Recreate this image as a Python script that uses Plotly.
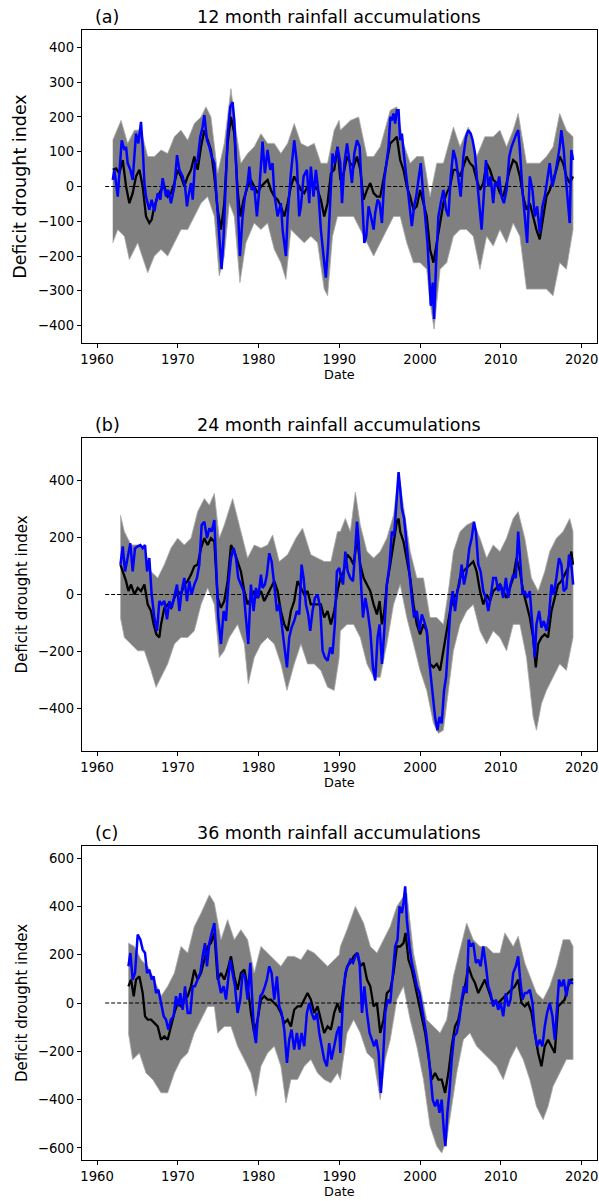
import plotly.graph_objects as go

# ---------------------------------------------------------------------------
# Deficit drought index for three rainfall accumulation windows.
# Each panel: ensemble spread (grey envelope), ensemble mean (black),
# observed series (blue) and a dashed zero reference line.
# ---------------------------------------------------------------------------

ZERO_SPAN = [1961.0, 2018.95]
X_TICKS = [1960, 1970, 1980, 1990, 2000, 2010, 2020]

# ----------------------------- (a) 12 month --------------------------------
A_TITLE = "12 month rainfall accumulations"
A_LABEL = "(a)"
A_YTICKS = [-400, -300, -200, -100, 0, 100, 200, 300, 400]
A_YRANGE = [-450, 450]

A_BLUE_T = [1961.94, 1962.14, 1962.56, 1963.05, 1963.38, 1963.59, 1963.79, 1964.12, 1964.41, 1964.82,
            1965.11, 1965.44, 1965.65, 1965.86, 1966.06, 1966.47, 1966.76, 1967.09, 1967.51, 1967.84,
            1968.12, 1968.54, 1968.82, 1969.15, 1969.57, 1969.90, 1970.19, 1970.60, 1970.89, 1971.13,
            1971.30, 1971.63, 1971.84, 1972.12, 1972.45, 1972.78, 1973.07, 1973.28, 1973.61, 1973.90,
            1974.19, 1974.52, 1974.85, 1975.13, 1975.42, 1975.67, 1975.96, 1976.16, 1976.49, 1976.78,
            1976.99, 1977.20, 1977.40, 1977.69, 1978.02, 1978.31, 1978.64, 1978.85, 1979.13, 1979.46,
            1979.79, 1980.08, 1980.49, 1980.78, 1981.11, 1981.44, 1981.73, 1981.94, 1982.35, 1982.76,
            1982.97, 1983.38, 1983.59, 1984.00, 1984.41, 1984.74, 1985.03, 1985.24, 1985.57, 1985.98,
            1986.27, 1986.47, 1986.80, 1987.09, 1987.38, 1987.71, 1988.04, 1988.33, 1988.62, 1988.87,
            1989.15, 1989.44, 1989.77, 1990.12, 1990.33, 1990.62, 1990.95, 1991.28, 1991.56, 1991.85,
            1992.18, 1992.51, 1992.80, 1993.09, 1993.33, 1993.62, 1993.91, 1994.24, 1994.44, 1994.73,
            1994.98, 1995.27, 1995.56, 1995.80, 1996.09, 1996.30, 1996.50, 1996.71, 1996.91, 1997.12,
            1997.33, 1997.53, 1997.74, 1998.02, 1998.35, 1998.68, 1998.97, 1999.26, 1999.51, 1999.79,
            2000.08, 2000.33, 2000.62, 2000.91, 2001.15, 2001.32, 2001.56, 2001.73, 2001.98, 2002.26,
            2002.55, 2002.88, 2003.21, 2003.50, 2003.79, 2004.12, 2004.44, 2004.73, 2005.02, 2005.35,
            2005.68, 2005.97, 2006.26, 2006.50, 2006.79, 2007.08, 2007.33, 2007.61, 2007.90, 2008.15,
            2008.44, 2008.72, 2009.05, 2009.26, 2009.55, 2009.79, 2010.08, 2010.37, 2010.70, 2011.03,
            2011.32, 2011.60, 2011.93, 2012.14, 2012.35, 2012.67, 2012.96, 2013.25, 2013.58, 2013.91,
            2014.20, 2014.49, 2014.81, 2015.14, 2015.43, 2015.72, 2016.05, 2016.38, 2016.67, 2016.95,
            2017.28, 2017.49, 2017.78, 2018.02, 2018.31, 2018.52, 2018.72, 2018.93]
A_BLUE_V = [19, 48, -29, 133, 105, 114, 67, 48, 19, 152,
            124, 186, 114, 10, -29, -67, -38, -71, -19, -38,
            24, -29, -10, -48, 0, 90, 48, 29, 0, -57,
            -29, 10, -38, 67, 76, 143, 171, 205, 133, 114,
            86, 67, -48, -143, -238, -143, 19, 143, 229, 243,
            190, 76, -48, -200, -86, -29, 10, 57, -10, 0,
            -86, -10, 129, 38, 105, 48, 67, -19, -86, -48,
            -124, -200, -86, 38, 133, 67, -86, -57, 29, 48,
            -48, 57, -29, 48, -10, -124, -200, -262, -162, -38,
            95, 67, 114, 67, -48, 67, 124, 67, 10, 95,
            133, 114, -29, -162, -143, -57, -86, -124, -76, -38,
            -48, -105, 19, 67, 114, 200, 190, 210, 181, 219,
            219, 133, 152, 86, 10, -48, -114, -57, -29, 19,
            67, -10, -86, -162, -267, -343, -276, -381, -219, -86,
            -48, -10, -67, -86, 29, 105, 76, 29, -29, 86,
            143, 162, 152, 133, 95, 10, -57, -124, -19, 76,
            0, 29, -48, 10, 0, 29, -29, -48, -10, 86,
            114, 133, 152, 162, 105, -10, -86, -162, 29, -10,
            -86, -57, -133, -57, -29, 19, 67, 0, 29, 67,
            114, 162, 105, 29, -48, -105, 105, 76]

A_MEAN_T = [1961.94, 1962.35, 1962.76, 1963.18, 1963.59, 1964.00, 1964.41, 1964.82, 1965.24, 1965.65,
            1966.06, 1966.47, 1966.76, 1967.09, 1967.51, 1967.92, 1968.33, 1968.74, 1969.15, 1969.57,
            1969.98, 1970.39, 1970.80, 1971.22, 1971.63, 1972.04, 1972.45, 1972.87, 1973.28, 1973.69,
            1974.10, 1974.52, 1974.93, 1975.34, 1975.75, 1976.16, 1976.58, 1976.99, 1977.40, 1977.73,
            1978.14, 1978.64, 1979.05, 1979.46, 1979.88, 1980.29, 1980.70, 1981.11, 1981.53, 1981.94,
            1982.35, 1982.76, 1983.18, 1983.59, 1984.00, 1984.41, 1984.82, 1985.24, 1985.65, 1986.06,
            1986.47, 1986.89, 1987.30, 1987.71, 1988.12, 1988.54, 1988.95, 1989.36, 1989.77, 1990.12,
            1990.53, 1990.95, 1991.36, 1991.77, 1992.18, 1992.59, 1993.00, 1993.42, 1993.83, 1994.24,
            1994.65, 1995.06, 1995.47, 1995.88, 1996.30, 1996.71, 1997.12, 1997.53, 1997.94, 1998.35,
            1998.77, 1999.18, 1999.59, 2000.00, 2000.41, 2000.82, 2001.23, 2001.65, 2002.06, 2002.47,
            2002.88, 2003.29, 2003.70, 2004.12, 2004.53, 2004.94, 2005.35, 2005.76, 2006.17, 2006.58,
            2007.00, 2007.41, 2007.82, 2008.23, 2008.64, 2009.05, 2009.47, 2009.88, 2010.29, 2010.70,
            2011.11, 2011.52, 2011.93, 2012.35, 2012.76, 2013.17, 2013.58, 2013.99, 2014.40, 2014.81,
            2015.23, 2015.64, 2016.05, 2016.46, 2016.87, 2017.28, 2017.70, 2018.11, 2018.52, 2018.93]
A_MEAN_V = [48, 52, 38, 76, 0, -48, -19, 29, 48, 0,
            -86, -105, -95, -57, -29, -10, 0, -29, -19, 10,
            48, 29, 0, 29, 48, 86, 48, 114, 162, 133,
            105, 29, -67, -124, -48, 124, 200, 152, -10, -86,
            -38, 0, 19, 0, -19, 0, 10, 19, -10, -29,
            -38, -57, -86, -48, 0, 29, 10, -10, -19, 0,
            10, 0, -10, -38, -86, -48, 38, 48, 114, 19,
            38, 86, 67, 57, 86, 48, -38, -10, 10, -19,
            -29, -29, 19, 76, 124, 133, 143, 76, 48, 0,
            -29, -67, -57, -10, -48, -86, -181, -219, -162, -105,
            -48, -19, 0, 48, 48, 29, 57, 86, 67, 57,
            19, -10, 10, 67, 48, 19, 10, -19, -29, 10,
            48, 76, 67, 29, -29, -67, -48, -86, -124, -152,
            -86, -29, -10, 19, 48, 86, 67, 29, 10, 29]

A_UP_T = [1961.94, 1962.97, 1963.79, 1964.62, 1965.44, 1966.27, 1967.09, 1967.92, 1968.74, 1969.57,
          1970.39, 1971.22, 1972.04, 1972.87, 1973.48, 1974.10, 1974.93, 1975.75, 1976.58, 1977.20,
          1977.81, 1978.64, 1979.46, 1980.29, 1981.11, 1981.94, 1982.76, 1983.59, 1984.41, 1985.24,
          1986.06, 1986.89, 1987.71, 1988.54, 1989.36, 1989.98, 1990.12, 1991.36, 1992.39, 1993.42,
          1994.24, 1995.06, 1996.30, 1997.12, 1997.94, 1998.77, 1999.59, 2000.41, 2001.23, 2002.06,
          2002.88, 2004.12, 2004.94, 2005.97, 2007.00, 2008.02, 2009.05, 2009.88, 2010.70, 2011.52,
          2012.14, 2013.17, 2013.99, 2014.81, 2015.64, 2016.46, 2017.28, 2018.11, 2018.93]
A_UP_V = [133, 190, 124, 162, 162, 86, 86, 105, 95, 143,
          162, 133, 181, 200, 229, 200, 38, 124, 281, 162,
          67, 95, 114, 152, 124, 124, 95, 124, 181, 124,
          114, 124, 67, 67, 162, 190, 162, 190, 200, 86,
          86, 114, 219, 229, 124, 67, 86, 86, -29, 67,
          67, 171, 114, 171, 86, 143, 143, 162, 114, 162,
          210, 67, 67, 67, 86, 114, 210, 162, 143]

A_LO_T = [1961.94, 1962.56, 1963.38, 1964.00, 1965.03, 1966.27, 1967.09, 1967.92, 1968.74, 1969.57,
          1970.39, 1971.22, 1972.04, 1972.87, 1973.69, 1974.52, 1975.13, 1975.75, 1976.37, 1976.99,
          1977.69, 1978.43, 1979.46, 1980.29, 1981.11, 1981.94, 1982.76, 1983.38, 1984.00, 1984.82,
          1985.65, 1986.47, 1987.30, 1988.12, 1988.54, 1989.15, 1989.77, 1990.12, 1990.95, 1991.77,
          1992.59, 1993.42, 1994.24, 1995.06, 1995.88, 1996.71, 1997.53, 1998.35, 1999.18, 2000.00,
          2000.82, 2001.23, 2001.73, 2002.47, 2003.29, 2004.12, 2004.94, 2005.76, 2006.58, 2007.41,
          2008.23, 2009.05, 2009.88, 2010.70, 2011.52, 2012.35, 2013.17, 2013.99, 2014.81, 2015.64,
          2016.46, 2017.28, 2018.11, 2018.93]
A_LO_V = [-162, -124, -143, -210, -162, -248, -200, -181, -200, -162,
          -124, -124, -86, -48, -29, -86, -257, -200, -48, -86,
          -276, -162, -105, -124, -105, -181, -219, -267, -124, -143,
          -162, -143, -162, -295, -314, -143, -86, -86, -86, -86,
          -124, -162, -200, -162, -124, -86, -86, -162, -219, -219,
          -238, -333, -410, -238, -219, -143, -124, -124, -143, -238,
          -143, -171, -124, -162, -105, -143, -295, -295, -295, -295,
          -314, -219, -238, -124]

# ----------------------------- (b) 24 month --------------------------------
B_TITLE = "24 month rainfall accumulations"
B_LABEL = "(b)"
B_YTICKS = [-400, -200, 0, 200, 400]
B_YRANGE = [-550, 550]

B_BLUE_T = [1962.89, 1963.18, 1963.46, 1963.79, 1964.12, 1964.41, 1964.70, 1965.03, 1965.36, 1965.65,
            1965.94, 1966.19, 1966.47, 1966.76, 1967.09, 1967.42, 1967.71, 1968.00, 1968.33, 1968.66,
            1968.95, 1969.24, 1969.57, 1969.90, 1970.19, 1970.47, 1970.80, 1971.13, 1971.42, 1971.71,
            1972.04, 1972.37, 1972.66, 1972.95, 1973.28, 1973.61, 1973.90, 1974.19, 1974.52, 1974.72,
            1975.01, 1975.34, 1975.67, 1975.96, 1976.25, 1976.58, 1976.91, 1977.20, 1977.48, 1977.81,
            1978.14, 1978.43, 1978.72, 1979.05, 1979.38, 1979.67, 1979.96, 1980.29, 1980.49, 1980.78,
            1981.03, 1981.32, 1981.61, 1981.94, 1982.27, 1982.56, 1982.85, 1983.18, 1983.51, 1983.79,
            1984.08, 1984.41, 1984.74, 1985.03, 1985.32, 1985.57, 1985.86, 1986.14, 1986.39, 1986.68,
            1986.97, 1987.30, 1987.63, 1987.92, 1988.21, 1988.54, 1988.87, 1989.15, 1989.44, 1989.69,
            1989.98, 1990.12, 1990.45, 1990.74, 1991.03, 1991.36, 1991.69, 1991.98, 1992.18, 1992.39,
            1992.67, 1992.92, 1993.21, 1993.50, 1993.83, 1994.16, 1994.44, 1994.73, 1994.98, 1995.27,
            1995.56, 1995.88, 1996.21, 1996.50, 1996.79, 1997.04, 1997.20, 1997.33, 1997.53, 1997.74,
            1998.02, 1998.35, 1998.68, 1998.97, 1999.26, 1999.59, 1999.92, 2000.21, 2000.49, 2000.82,
            2001.03, 2001.32, 2001.56, 2001.85, 2002.14, 2002.39, 2002.67, 2002.96, 2003.21, 2003.50,
            2003.79, 2004.03, 2004.32, 2004.61, 2004.86, 2005.14, 2005.43, 2005.76, 2006.09, 2006.38,
            2006.67, 2006.91, 2007.20, 2007.49, 2007.82, 2008.15, 2008.44, 2008.72, 2009.05, 2009.38,
            2009.67, 2009.96, 2010.29, 2010.62, 2010.91, 2011.19, 2011.52, 2011.85, 2012.14, 2012.43,
            2012.67, 2012.96, 2013.25, 2013.58, 2013.91, 2014.20, 2014.40, 2014.73, 2015.02, 2015.31,
            2015.64, 2015.97, 2016.26, 2016.54, 2016.87, 2017.20, 2017.49, 2017.78, 2018.11, 2018.44,
            2018.72, 2018.95]
B_BLUE_V = [105, 169, 81, 128, 180, 81, 163, 169, 174, 163,
            174, 81, 128, 0, -81, -128, -23, -35, -23, -87,
            -23, -47, 0, 35, -58, 12, 58, -23, 47, 0,
            35, 58, 105, 244, 256, 198, 233, 221, 262, 140,
            -81, -174, -58, -93, 35, 128, 163, 128, 58, 35,
            12, -81, -174, 35, -58, 23, -12, 70, 23, 35,
            70, 145, 116, 35, -58, -35, -105, -163, -256, -151,
            -116, -93, -58, -70, 105, 58, -35, -70, -128, -58,
            -12, 0, -47, -198, -221, -233, -186, -209, -105, 81,
            93, 70, 35, 151, 81, 58, 47, 163, 256, 186,
            58, -81, -12, -58, -128, -256, -302, -151, -105, -244,
            -128, 35, 105, 221, 209, 314, 360, 430, 372, 302,
            267, 163, 81, -12, -81, -58, -128, -70, -93, -128,
            -209, -291, -372, -430, -477, -430, -453, -337, -291, -151,
            -35, 12, -58, 12, 35, 105, 35, 81, 163, 198,
            256, 221, 105, 81, 12, -12, -58, -12, 58, 58,
            12, 35, -12, 58, -12, 35, 70, 58, 221, 105,
            0, 12, -12, 12, -105, -221, -105, -58, -116, -93,
            -128, -70, 35, 0, 58, 128, 105, 12, 23, 140,
            105, 35]

B_MEAN_T = [1962.89, 1963.18, 1963.59, 1963.88, 1964.21, 1964.62, 1965.03, 1965.44, 1965.86, 1966.27,
            1966.68, 1967.01, 1967.34, 1967.71, 1967.92, 1968.33, 1968.74, 1969.15, 1969.57, 1969.98,
            1970.39, 1970.80, 1971.22, 1971.63, 1972.04, 1972.45, 1972.87, 1973.28, 1973.69, 1974.10,
            1974.52, 1974.93, 1975.34, 1975.75, 1976.16, 1976.58, 1976.99, 1977.40, 1977.81, 1978.23,
            1978.64, 1979.05, 1979.46, 1979.88, 1980.29, 1980.70, 1981.11, 1981.53, 1981.94, 1982.35,
            1982.76, 1983.18, 1983.59, 1984.00, 1984.41, 1984.82, 1985.24, 1985.65, 1986.06, 1986.47,
            1986.89, 1987.30, 1987.71, 1988.12, 1988.54, 1988.95, 1989.36, 1989.77, 1990.12, 1990.53,
            1990.95, 1991.36, 1991.77, 1992.18, 1992.59, 1993.00, 1993.42, 1993.83, 1994.24, 1994.65,
            1994.98, 1995.27, 1995.56, 1995.88, 1996.30, 1996.71, 1997.12, 1997.33, 1997.53, 1997.94,
            1998.35, 1998.77, 1999.18, 1999.59, 2000.00, 2000.41, 2000.82, 2001.23, 2001.65, 2002.06,
            2002.47, 2002.88, 2003.29, 2003.70, 2004.12, 2004.53, 2004.94, 2005.35, 2005.76, 2006.17,
            2006.58, 2007.00, 2007.41, 2007.82, 2008.23, 2008.64, 2009.05, 2009.47, 2009.88, 2010.29,
            2010.70, 2011.11, 2011.52, 2011.93, 2012.35, 2012.76, 2013.17, 2013.58, 2013.99, 2014.32,
            2014.61, 2015.02, 2015.43, 2015.84, 2016.26, 2016.67, 2017.08, 2017.49, 2017.90, 2018.31,
            2018.72, 2018.93]
B_MEAN_V = [105, 81, 47, 12, 35, 0, 23, 12, 35, -35,
            -58, -105, -140, -151, -105, -47, -35, -47, -12, 12,
            0, 35, 47, 70, 99, 105, 163, 198, 174, 198,
            186, -12, -47, -23, 47, 174, 151, 116, 81, 12,
            -35, -12, 12, -12, 12, -23, 0, 23, 47, 12,
            -58, -105, -128, -58, -23, 47, 23, 0, 12, -35,
            -35, -35, -35, -81, -58, -105, -58, 12, 58, 81,
            140, 128, 105, 198, 105, 58, 35, 12, -35, -70,
            -23, -105, -58, 35, 105, 174, 256, 267, 221, 186,
            128, 58, -35, -105, -140, -105, -128, -244, -256, -244,
            -267, -198, -128, -58, -12, 0, 58, 81, 93, 105,
            116, 81, 12, -35, 0, -23, 12, 23, 35, 12,
            -12, 23, 58, 128, 81, 12, -35, -81, -151, -256,
            -174, -151, -140, -151, -58, -12, 35, 47, 70, 93,
            151, 105]

B_UP_T = [1962.89, 1963.38, 1964.21, 1965.03, 1965.86, 1966.68, 1967.51, 1968.33, 1969.15, 1969.98,
          1970.80, 1971.63, 1972.45, 1973.28, 1973.90, 1974.52, 1975.13, 1975.75, 1976.78, 1977.61,
          1978.64, 1979.46, 1980.29, 1981.11, 1981.73, 1982.56, 1983.59, 1984.62, 1985.44, 1986.47,
          1987.30, 1988.12, 1988.95, 1989.77, 1990.12, 1990.74, 1991.36, 1991.98, 1992.59, 1993.42,
          1994.24, 1995.06, 1995.88, 1996.71, 1997.33, 1997.94, 1998.77, 1999.59, 2000.41, 2001.23,
          2002.06, 2002.88, 2003.50, 2004.12, 2004.94, 2005.76, 2006.58, 2007.41, 2008.23, 2009.05,
          2009.88, 2010.70, 2011.52, 2012.14, 2012.96, 2013.78, 2014.61, 2015.43, 2016.05, 2016.87,
          2017.70, 2018.52, 2018.93]
B_UP_V = [279, 221, 174, 174, 163, 81, 58, 105, 163, 198,
          174, 198, 291, 337, 314, 355, 198, 244, 337, 244,
          128, 174, 163, 174, 209, 116, 140, 198, 233, 140,
          128, 116, 116, 221, 221, 267, 221, 360, 244, 151,
          128, 151, 198, 279, 430, 314, 151, 58, 58, -81,
          -81, -105, 12, 151, 221, 244, 256, 198, 128, 174,
          151, 198, 267, 291, 198, 58, 12, 81, 151, 198,
          221, 267, 221]

B_LO_T = [1962.89, 1963.38, 1964.21, 1965.03, 1965.86, 1966.68, 1967.30, 1967.92, 1968.74, 1969.57,
          1970.39, 1971.22, 1972.04, 1972.87, 1973.69, 1974.52, 1975.13, 1975.75, 1976.37, 1977.40,
          1978.23, 1978.72, 1979.46, 1980.29, 1981.11, 1981.94, 1982.76, 1983.51, 1984.41, 1985.24,
          1986.06, 1986.89, 1987.71, 1988.54, 1989.36, 1989.98, 1990.12, 1990.95, 1991.77, 1992.59,
          1993.42, 1994.24, 1995.06, 1995.88, 1996.71, 1997.53, 1998.35, 1999.18, 2000.00, 2000.82,
          2001.65, 2002.26, 2002.88, 2003.50, 2004.12, 2004.94, 2005.76, 2006.58, 2007.41, 2008.23,
          2009.05, 2009.88, 2010.70, 2011.52, 2012.35, 2013.17, 2013.99, 2014.40, 2015.02, 2015.64,
          2016.46, 2017.28, 2018.11, 2018.93]
B_LO_V = [-81, -151, -174, -198, -198, -267, -326, -291, -244, -174,
          -151, -151, -128, -35, 23, -35, -221, -198, -151, -105,
          -174, -314, -221, -174, -151, -174, -244, -337, -244, -174,
          -244, -244, -267, -326, -337, -221, -128, -105, -105, -151,
          -244, -291, -291, -174, -35, 35, -81, -174, -267, -337,
          -453, -488, -477, -337, -198, -105, -58, -35, -128, -174,
          -128, -151, -198, -105, -105, -221, -430, -477, -384, -337,
          -291, -244, -267, -151]

# ----------------------------- (c) 36 month --------------------------------
C_TITLE = "36 month rainfall accumulations"
C_LABEL = "(c)"
C_YTICKS = [-600, -400, -200, 0, 200, 400, 600]
C_YRANGE = [-650, 650]

C_BLUE_T = [1963.88, 1964.12, 1964.41, 1964.70, 1965.03, 1965.36, 1965.65, 1965.94, 1966.19, 1966.47,
            1966.76, 1967.01, 1967.30, 1967.59, 1967.92, 1968.25, 1968.54, 1968.82, 1969.15, 1969.48,
            1969.77, 1970.06, 1970.31, 1970.60, 1970.89, 1971.22, 1971.55, 1971.84, 1972.12, 1972.45,
            1972.78, 1973.07, 1973.36, 1973.61, 1973.90, 1974.19, 1974.52, 1974.72, 1975.01, 1975.34,
            1975.67, 1975.96, 1976.25, 1976.49, 1976.78, 1977.07, 1977.40, 1977.73, 1978.02, 1978.31,
            1978.64, 1978.97, 1979.26, 1979.46, 1979.67, 1979.88, 1980.21, 1980.49, 1980.78, 1981.03,
            1981.32, 1981.61, 1981.94, 1982.27, 1982.56, 1982.85, 1983.18, 1983.51, 1983.79, 1984.08,
            1984.41, 1984.74, 1985.03, 1985.32, 1985.65, 1985.98, 1986.27, 1986.56, 1986.89, 1987.22,
            1987.51, 1987.79, 1988.12, 1988.45, 1988.74, 1989.03, 1989.36, 1989.69, 1989.98, 1990.12,
            1990.45, 1990.74, 1991.03, 1991.36, 1991.69, 1991.98, 1992.26, 1992.51, 1992.80, 1993.09,
            1993.42, 1993.74, 1994.03, 1994.32, 1994.57, 1994.86, 1995.14, 1995.39, 1995.68, 1995.97,
            1996.30, 1996.63, 1996.91, 1997.20, 1997.45, 1997.74, 1997.94, 1998.15, 1998.35, 1998.68,
            1998.97, 1999.26, 1999.59, 1999.92, 2000.21, 2000.49, 2000.74, 2001.03, 2001.32, 2001.56,
            2001.85, 2002.14, 2002.39, 2002.67, 2002.96, 2003.13, 2003.37, 2003.62, 2003.91, 2004.20,
            2004.53, 2004.86, 2005.14, 2005.43, 2005.76, 2006.01, 2006.26, 2006.58, 2006.91, 2007.20,
            2007.49, 2007.82, 2008.15, 2008.44, 2008.72, 2009.05, 2009.38, 2009.67, 2009.96, 2010.29,
            2010.62, 2010.91, 2011.19, 2011.52, 2011.85, 2012.14, 2012.35, 2012.67, 2012.96, 2013.25,
            2013.58, 2013.91, 2014.20, 2014.49, 2014.81, 2015.14, 2015.43, 2015.72, 2016.05, 2016.38,
            2016.67, 2016.95, 2017.20, 2017.49, 2017.78, 2018.11, 2018.44, 2018.72, 2018.95]
C_BLUE_V = [152, 207, 97, 124, 283, 262, 221, 207, 124, 138,
            97, 110, 41, 55, 0, -55, -69, -110, -69, -55,
            28, -14, 41, -28, 69, -41, -41, 69, 69, 97,
            124, 193, 248, 152, 248, 290, 331, 234, 97, 41,
            69, 14, 97, 179, 124, 69, -41, 14, 124, 110,
            14, 166, -14, -124, -166, -69, 28, 41, 69, 97,
            152, 124, 14, 110, -14, -41, -110, -248, -152, -110,
            -193, -124, -193, -124, -179, -41, 0, -41, -69, -41,
            -124, -179, -234, -262, -166, -234, -179, -124, -97, -207,
            14, 124, 152, 179, 166, 193, 207, 166, -41, 69,
            -41, -124, -152, -179, -152, -207, -372, -248, -41, 14,
            0, 110, 234, 262, 400, 372, 414, 483, 345, 234,
            166, 124, 69, 41, -14, -69, -124, -207, -317, -400,
            -428, -400, -455, -400, -538, -593, -455, -372, -234, -138,
            -124, -69, 14, 69, 41, 262, 234, 248, 166, 179,
            152, 234, 152, 69, 41, -14, 14, -28, 0, -55,
            41, -14, 14, 124, 152, 193, 110, 14, 41, 41,
            55, 0, -124, -179, -152, -179, -97, -41, 0, -55,
            -152, -28, 97, 69, 97, 28, 97, 83, 83]

C_MEAN_T = [1963.88, 1964.21, 1964.54, 1964.82, 1965.24, 1965.65, 1965.94, 1966.27, 1966.68, 1967.09,
            1967.51, 1967.92, 1968.33, 1968.74, 1969.15, 1969.57, 1969.98, 1970.39, 1970.80, 1971.22,
            1971.63, 1972.04, 1972.45, 1972.87, 1973.28, 1973.69, 1974.10, 1974.52, 1974.93, 1975.34,
            1975.75, 1976.16, 1976.58, 1976.99, 1977.40, 1977.81, 1978.23, 1978.64, 1979.05, 1979.46,
            1979.88, 1980.29, 1980.70, 1981.11, 1981.53, 1981.94, 1982.35, 1982.76, 1983.18, 1983.59,
            1984.00, 1984.41, 1984.82, 1985.24, 1985.65, 1986.06, 1986.47, 1986.89, 1987.30, 1987.71,
            1988.12, 1988.54, 1988.95, 1989.36, 1989.77, 1990.12, 1990.53, 1990.95, 1991.36, 1991.77,
            1992.18, 1992.59, 1993.00, 1993.42, 1993.83, 1994.24, 1994.65, 1995.06, 1995.47, 1995.88,
            1996.30, 1996.71, 1997.12, 1997.53, 1997.94, 1998.19, 1998.56, 1998.97, 1999.38, 1999.79,
            2000.21, 2000.62, 2001.03, 2001.44, 2001.85, 2002.26, 2002.67, 2003.09, 2003.50, 2003.91,
            2004.32, 2004.73, 2005.14, 2005.56, 2005.97, 2006.38, 2006.79, 2007.20, 2007.61, 2008.02,
            2008.44, 2008.85, 2009.26, 2009.67, 2010.08, 2010.49, 2010.91, 2011.32, 2011.73, 2012.14,
            2012.55, 2012.96, 2013.37, 2013.79, 2014.20, 2014.61, 2015.02, 2015.43, 2015.84, 2016.26,
            2016.67, 2017.08, 2017.49, 2017.90, 2018.31, 2018.72, 2018.95]
C_MEAN_V = [69, 97, 28, 97, 110, 41, -55, -69, -69, -83,
            -97, -152, -138, -152, -97, -41, 0, -14, 14, 28,
            69, 138, 97, 124, 179, 234, 248, 290, 97, 124,
            97, 138, 193, 110, 55, 124, 138, 69, -41, -124,
            -69, 14, 28, 14, 14, 0, -14, -41, -83, -69,
            -97, -28, -14, -14, 14, 41, 14, -41, -14, -69,
            -124, -97, -110, -41, 0, -40, 69, 152, 166, 193,
            207, 152, 166, 97, 69, -14, 0, -124, -69, 41,
            55, 124, 234, 234, 248, 290, 179, 138, 69, 0,
            -55, -124, -221, -317, -290, -317, -317, -372, -290, -179,
            -97, -69, 0, 69, 152, 110, 83, 41, 69, 97,
            55, 14, 0, 0, 14, 28, 41, 55, 69, 97,
            0, -14, 0, -41, -124, -207, -262, -179, -152, -179,
            -207, -14, 0, 14, 69, 97, 97]

C_UP_T = [1963.88, 1964.62, 1965.44, 1966.27, 1967.09, 1967.92, 1968.74, 1969.57, 1970.39, 1971.22,
          1972.04, 1972.87, 1973.90, 1974.52, 1975.34, 1976.16, 1976.99, 1977.81, 1978.64, 1979.46,
          1980.29, 1981.11, 1981.94, 1982.76, 1983.59, 1984.41, 1985.24, 1986.06, 1986.89, 1987.71,
          1988.54, 1989.36, 1989.98, 1990.12, 1990.95, 1991.98, 1993.00, 1993.83, 1994.65, 1995.47,
          1996.30, 1997.12, 1997.94, 1998.35, 1999.18, 2000.00, 2000.82, 2001.65, 2002.47, 2003.29,
          2004.12, 2004.94, 2005.76, 2006.58, 2007.41, 2008.23, 2009.05, 2009.88, 2010.49, 2011.52,
          2012.14, 2012.96, 2013.79, 2014.40, 2015.23, 2016.05, 2016.87, 2017.70, 2018.52, 2018.93]
C_UP_V = [248, 234, 179, 152, 97, 28, 69, 124, 234, 207,
          317, 372, 448, 414, 262, 345, 262, 303, 262, 124,
          234, 207, 179, 152, 193, 193, 179, 221, 207, 179,
          152, 179, 200, 234, 303, 400, 331, 234, 207, 262,
          317, 400, 441, 455, 207, 69, -69, -97, -124, -69,
          110, 221, 331, 262, 234, 234, 207, 207, 290, 234,
          276, 166, 97, 41, 14, 69, 152, 262, 262, 234]

C_LO_T = [1963.88, 1964.41, 1965.24, 1966.06, 1966.89, 1967.92, 1968.74, 1969.57, 1970.39, 1971.22,
          1972.04, 1972.87, 1973.69, 1974.52, 1974.93, 1975.75, 1976.58, 1977.40, 1978.23, 1979.05,
          1979.67, 1980.29, 1981.11, 1981.94, 1982.76, 1983.38, 1984.00, 1984.82, 1985.65, 1986.47,
          1987.30, 1988.12, 1988.95, 1989.77, 1990.12, 1990.95, 1991.77, 1992.59, 1993.42, 1994.24,
          1995.06, 1995.68, 1996.30, 1997.12, 1997.94, 1998.77, 1999.59, 2000.41, 2001.23, 2002.06,
          2002.67, 2003.29, 2003.91, 2004.53, 2005.35, 2006.17, 2007.00, 2007.82, 2008.64, 2009.47,
          2010.29, 2011.11, 2011.93, 2012.76, 2013.58, 2014.40, 2015.23, 2015.84, 2016.46, 2017.28,
          2018.11, 2018.93]
C_LO_V = [-124, -234, -207, -290, -317, -372, -372, -290, -234, -207,
          -124, -69, -14, -14, -124, -97, -97, -179, -234, -290,
          -386, -262, -207, -179, -262, -414, -317, -317, -262, -234,
          -290, -317, -331, -290, -317, -124, -69, -124, -207, -234,
          -400, -234, -152, 14, 69, -69, -179, -317, -510, -593,
          -621, -566, -428, -290, -152, -124, -179, -207, -234, -262,
          -317, -234, -179, -234, -317, -428, -483, -428, -345, -290,
          -234, -234]

PANELS = [
    dict(label=A_LABEL, title=A_TITLE, yticks=A_YTICKS, yrange=A_YRANGE,
         blue=(A_BLUE_T, A_BLUE_V), mean=(A_MEAN_T, A_MEAN_V),
         up=(A_UP_T, A_UP_V), lo=(A_LO_T, A_LO_V), ylab_size=17.5),
    dict(label=B_LABEL, title=B_TITLE, yticks=B_YTICKS, yrange=B_YRANGE,
         blue=(B_BLUE_T, B_BLUE_V), mean=(B_MEAN_T, B_MEAN_V),
         up=(B_UP_T, B_UP_V), lo=(B_LO_T, B_LO_V), ylab_size=15),
    dict(label=C_LABEL, title=C_TITLE, yticks=C_YTICKS, yrange=C_YRANGE,
         blue=(C_BLUE_T, C_BLUE_V), mean=(C_MEAN_T, C_MEAN_V),
         up=(C_UP_T, C_UP_V), lo=(C_LO_T, C_LO_V), ylab_size=15),
]

# ------------------------------- layout ------------------------------------
W, H = 599, 1201
FONT = "DejaVu Sans, Arial, sans-serif"
TICK_SIZE = 13.2
X_DOMAIN = [81 / W, 598 / W]
# vertical pixel extents (top, bottom) of each plotting area
PANEL_PX = [(30, 343), (438, 751), (846, 1160)]

fig = go.Figure()
layout = dict(
    width=W, height=H,
    margin=dict(l=0, r=0, t=0, b=0),
    paper_bgcolor="white", plot_bgcolor="white",
    showlegend=False, hovermode=False,
    font=dict(family=FONT, color="black", size=TICK_SIZE),
)
annotations = []

for i, p in enumerate(PANELS, start=1):
    xa = "x" if i == 1 else f"x{i}"
    ya = "y" if i == 1 else f"y{i}"
    top, bot = PANEL_PX[i - 1]

    # ensemble envelope as one closed polygon
    up_t, up_v = p["up"]
    lo_t, lo_v = p["lo"]
    fig.add_trace(go.Scatter(
        x=list(up_t) + list(lo_t)[::-1], y=list(up_v) + list(lo_v)[::-1],
        mode="lines", fill="toself", fillcolor="#808080",
        line=dict(color="#a8a8a8", width=0.8), xaxis=xa, yaxis=ya))

    # zero reference line
    fig.add_trace(go.Scatter(
        x=ZERO_SPAN, y=[0, 0], mode="lines",
        line=dict(color="black", width=1.1, dash="4px,2px"), xaxis=xa, yaxis=ya))

    # ensemble mean
    fig.add_trace(go.Scatter(
        x=p["mean"][0], y=p["mean"][1], mode="lines",
        line=dict(color="black", width=2.3), xaxis=xa, yaxis=ya))

    # observed series
    fig.add_trace(go.Scatter(
        x=p["blue"][0], y=p["blue"][1], mode="lines",
        line=dict(color="#0000ff", width=2.5), xaxis=xa, yaxis=ya))

    axis_common = dict(
        showline=True, linecolor="black", linewidth=1, mirror=True,
        ticks="outside", ticklen=4, tickwidth=1, tickcolor="black",
        showgrid=False, zeroline=False, ticklabeloverflow="allow",
        tickfont=dict(size=TICK_SIZE, family=FONT, color="black"),
    )
    layout["xaxis" if i == 1 else f"xaxis{i}"] = dict(
        axis_common, domain=X_DOMAIN, range=[1958.1, 2021.9],
        tickvals=X_TICKS, anchor=ya,
        title=dict(text="Date", font=dict(size=12.8, family=FONT), standoff=4),
    )
    layout["yaxis" if i == 1 else f"yaxis{i}"] = dict(
        axis_common, domain=[1 - bot / H, 1 - top / H], range=p["yrange"],
        tickvals=p["yticks"], anchor=xa,
        title=dict(text="Deficit drought index",
                   font=dict(size=p["ylab_size"], family=FONT), standoff=6),
    )

    ty = 1 - (top - 13) / H
    annotations.append(dict(
        text=p["label"], x=92 / W, y=ty, xref="paper", yref="paper",
        xanchor="left", yanchor="middle", showarrow=False,
        font=dict(size=17.5, family=FONT, color="black")))
    annotations.append(dict(
        text=p["title"], x=(X_DOMAIN[0] + X_DOMAIN[1]) / 2, y=ty,
        xref="paper", yref="paper", xanchor="center", yanchor="middle",
        showarrow=False, font=dict(size=17.5, family=FONT, color="black")))

layout["annotations"] = annotations
fig.update_layout(**layout)
fig.write_html("out.html")
